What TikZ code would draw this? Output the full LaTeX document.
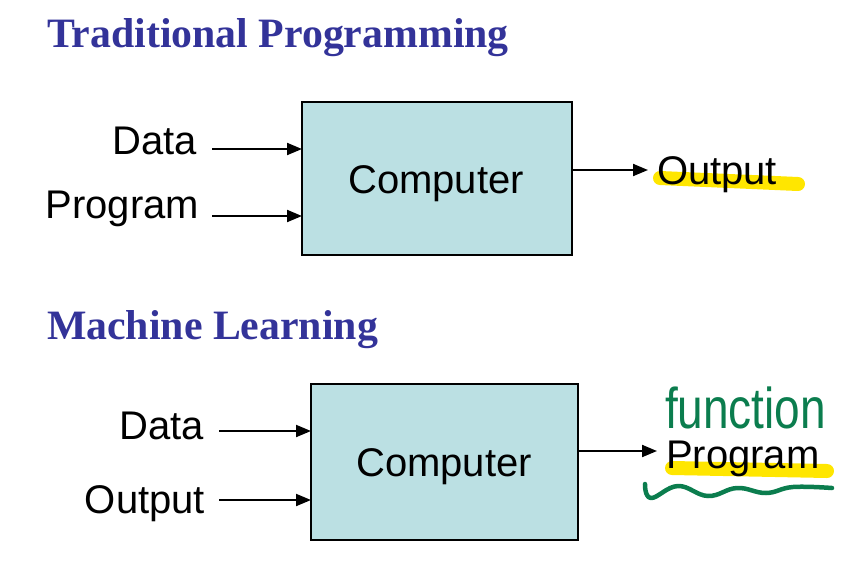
\documentclass[tikz,border=0pt]{standalone}
\usepackage{fontspec}
\setmainfont{Liberation Serif}
\setsansfont{Liberation Sans}
\usetikzlibrary{arrows.meta,positioning}

\definecolor{titleblue}{HTML}{333399}
\definecolor{boxfill}{HTML}{BBE0E3}
\definecolor{hiyellow}{HTML}{FFE600}
\definecolor{pengreen}{HTML}{0B7D4E}

\newcommand{\headfont}{\fontsize{41.8}{48}\selectfont\rmfamily\bfseries}
\newcommand{\wordfont}{\fontsize{40}{46}\selectfont\sffamily}

\begin{document}
\begin{tikzpicture}[
  x=1pt, y=-1pt,
  every node/.style={inner sep=0pt, outer sep=0pt},
  heading/.style={font=\headfont, text=titleblue, anchor=base west},
  inword/.style={font=\wordfont, anchor=base east},
  outword/.style={font=\wordfont, anchor=base west},
  compbox/.style={draw, fill=boxfill, line width=1.6pt, font=\wordfont},
  flow/.style={-{Triangle[length=15pt,width=12pt]}, line width=2pt},
  hilite/.style={draw=hiyellow, line width=14pt, line cap=round}
]
\useasboundingbox (0,0) rectangle (847,566);

% highlights behind the words
\draw[hilite] (660,178) -- (798,184);
\draw[hilite] (672,468) -- (827,471);

% traditional programming
\node[heading] (head1) at (47,47) {Traditional Programming};
\node[compbox, minimum width=270pt, minimum height=153pt] (comp1) at (437,178.5) {};
\node[font=\wordfont, anchor=base] (word1) at (436,193) {Computer};
\node[inword] (data1) at (197,154) {Data};
\node[inword] (prog1) at (199,218) {Program};
\node[outword] (out1) at (657,184) {Output};
\coordinate (d1) at (212,149);
\coordinate (p1) at (212,216);
\coordinate (o1) at (648,170);
\draw[flow] (d1) -- (d1 -| comp1.west);
\draw[flow] (p1) -- (p1 -| comp1.west);
\draw[flow] (comp1.east |- o1) -- (o1);

% machine learning
\node[heading] (head2) at (47,339) {Machine Learning};
\node[compbox, minimum width=267pt, minimum height=156pt] (comp2) at (444.5,462) {};
\node[font=\wordfont, anchor=base] (word2) at (444,476) {Computer};
\node[inword] (data2) at (204,439) {Data};
\node[inword] (outp2) at (205,513) {Output};
\node[outword] (prog2) at (666,468) {Program};
\coordinate (d2) at (219,431);
\coordinate (p2) at (219,500);
\coordinate (o2) at (657,451);
\draw[flow] (d2) -- (d2 -| comp2.west);
\draw[flow] (p2) -- (p2 -| comp2.west);
\draw[flow] (comp2.east |- o2) -- (o2);

% handwritten note
\node[font=\fontsize{46}{52}\selectfont\sffamily, text=pengreen, anchor=base west] (func) at (665,428) {\scalebox{1}[1.25]{function}};
\draw[pengreen, line width=4.5pt, line cap=round, line join=round]
  plot[smooth, tension=0.7] coordinates {(645,484) (651,498) (678,486) (708,496) (737,488) (766,493) (793,487) (832,488)};
\end{tikzpicture}
\end{document}
